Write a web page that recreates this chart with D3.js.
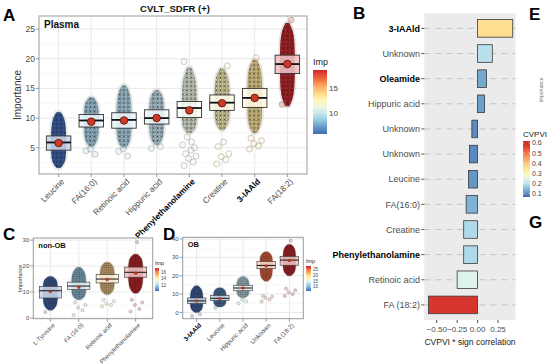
<!DOCTYPE html>
<html>
<head>
<meta charset="utf-8">
<script src="https://cdn.jsdelivr.net/npm/d3@7"></script>
<style>
  body { margin: 0; background: #fff; }
  svg { font-family: "Liberation Sans", Arial, sans-serif; }
</style>
</head>
<body>
<div id="chart"></div>
<script>
// ---- panel A : plasma ----
const catsA = ["Leucine", "FA(16:0)", "Retinoic acid", "Hippuric acid", "Phenylethanolamine", "Creatine", "3-IAAld", "FA(18:2)"];
const boldA = ["Phenylethanolamine", "3-IAAld"];
const q1A   = [4.6, 8.5, 8.3, 9.0, 10.1, 11.3, 11.8, 17.5];
const medA  = [5.9, 9.6, 9.7, 10.0, 11.7, 12.6, 13.4, 19.1];
const q3A   = [7.0, 10.6, 10.9, 11.4, 12.8, 13.9, 15.0, 20.6];
const meanA = [5.8, 9.4, 9.6, 10.0, 11.3, 12.5, 13.4, 19.1];
const loA   = [1.6, 5.2, 5.0, 5.5, 7.5, 8.0, 7.5, 12.0];
const hiA   = [11.0, 13.5, 15.5, 14.7, 18.5, 18.3, 19.8, 26.0];
const outA  = [[], [4.5, 3.9, 4.8], [4.4, 3.6, 4.8], [4.9, 5.2], [2.0, 2.6, 3.2, 3.6, 4.0, 4.6, 5.0, 5.5, 6.0, 6.8, 19.5], [2.3, 3.0, 3.5, 4.0, 5.2, 6.0, 18.8], [4.8, 5.3, 5.7, 6.2, 6.6, 20.2], [12.3, 26.5]];
const ticksA = [5, 10, 15, 20, 25];

// ---- panel C : non-OB ----
const catsC = ["L-Tyrosine", "FA (16:0)", "Retinoic acid", "Phenylethanolamine"];
const q1C   = [7.7, 10.9, 13.5, 15.7];
const medC  = [10.5, 12.3, 15.0, 17.6];
const q3C   = [12.2, 13.8, 16.7, 19.6];
const meanC = [10.2, 11.8, 14.8, 17.2];
const loC   = [3.0, 7.0, 9.0, 9.5];
const hiC   = [16.0, 19.5, 21.5, 24.5];
const outC  = [[2.3], [1.2, 3.0, 4.0, 5.0, 6.0], [4.5, 5.0, 5.5, 6.5, 7.0], [2.5, 3.5, 5.0, 6.0, 7.0, 29.2]];
const ticksC = [0, 10, 20, 30];

// ---- panel D : OB ----
const catsD = ["3-IAAld", "Leucine", "Hippuric acid", "Unknown", "FA (18:2)"];
const boldD = ["3-IAAld"];
const q1D   = [4.8, 6.4, 11.8, 23.8, 25.7];
const medD  = [6.3, 7.7, 13.3, 25.6, 28.5];
const q3D   = [7.9, 9.3, 14.8, 27.8, 30.5];
const meanD = [6.3, 7.5, 13.3, 25.3, 28.3];
const loD   = [0.0, 3.0, 8.0, 17.0, 20.0];
const hiD   = [14.5, 13.5, 19.5, 33.0, 37.0];
const outD  = [[-2.0, -1.0], [2.5], [5.0, 6.0, 7.0], [6.0, 7.0, 8.0, 8.5, 9.0], [9.0, 10.0, 11.0, 12.0, 13.0, 39.0]];
const ticksD = [0, 10, 20, 30, 40];

// ---- panel B : signed CVPVI ----
const catsB  = ["3-IAAld", "Unknown", "Oleamide", "Hippuric acid", "Unknown", "Unknown", "Leucine", "FA(16:0)", "Creatine", "Phenylethanolamine", "Retinoic acid", "FA (18:2)"];
const boldB  = ["3-IAAld", "Oleamide", "Phenylethanolamine"];
const valB   = [0.43, 0.18, 0.11, 0.085, -0.07, -0.10, -0.11, -0.14, -0.17, -0.17, -0.25, -0.60];
const cvpviB = [0.36, 0.20, 0.13, 0.12, 0.10, 0.10, 0.11, 0.14, 0.19, 0.19, 0.24, 0.58];
const ticksB = [-0.5, -0.25, 0, 0.25];
const legTicksB = [0.1, 0.2, 0.3, 0.4, 0.5, 0.6];

const svg = d3.select("#chart").append("svg").attr("width", 550).attr("height", 364);
const defs = svg.append("defs");
const interp = t => d3.interpolateRdYlBu(0.92 - 0.84 * t);
const jit = [-0.7, 0.5, -0.1, 0.9, -0.5, 0.2, 0.7, -0.9, 0.3, -0.3];

// texture of packed, outlined points for a dense jitter cloud
let pid = 0;
function pattern(color, s, r, sw) {
  const id = "pat" + (pid++);
  const p = defs.append("pattern").attr("id", id).attr("patternUnits", "userSpaceOnUse")
    .attr("width", s).attr("height", s);
  p.append("rect").attr("width", s).attr("height", s).attr("fill", d3.color(color).darker(0.35));
  [[0, 0], [s, 0], [0, s], [s, s], [s / 2, s / 2]].forEach(d => {
    p.append("circle").attr("cx", d[0]).attr("cy", d[1]).attr("r", r)
      .attr("fill", "none").attr("stroke", "rgba(10,10,20,0.55)").attr("stroke-width", sw);
  });
  return "url(#" + id + ")";
}

let gid = 0;
function gradLegend(col, yScale, x, w, ticks, title, fs, fmt) {
  const id = "grad" + (gid++);
  const [d0, d1] = yScale.domain();
  const lg = defs.append("linearGradient").attr("id", id).attr("x1", 0).attr("y1", 1).attr("x2", 0).attr("y2", 0);
  d3.range(0, 1.0001, 0.05).forEach(t => {
    lg.append("stop").attr("offset", t).attr("stop-color", col(d0 + t * (d1 - d0)));
  });
  const [yb, yt] = yScale.range();
  svg.append("text").attr("x", x).attr("y", yt - fs * 0.6).attr("font-size", fs + 1).attr("fill", "#222").text(title);
  svg.append("rect").attr("x", x).attr("y", yt).attr("width", w).attr("height", yb - yt).attr("fill", "url(#" + id + ")");
  ticks.forEach(v => {
    svg.append("line").attr("x1", x).attr("x2", x + w * 0.2).attr("y1", yScale(v)).attr("y2", yScale(v)).attr("stroke", "#fff").attr("stroke-width", 0.6);
    svg.append("line").attr("x1", x + w * 0.8).attr("x2", x + w).attr("y1", yScale(v)).attr("y2", yScale(v)).attr("stroke", "#fff").attr("stroke-width", 0.6);
    svg.append("text").attr("x", x + w + 2).attr("y", yScale(v)).attr("dy", "0.35em")
      .attr("font-size", fs).attr("fill", "#444").text(fmt(v));
  });
}

function boxPanel(o) {
  const g = svg.append("g");
  const x = d3.scalePoint().domain(o.cats).range([o.left, o.right]).padding(0.6);
  const y = d3.scaleLinear().domain(o.yDom).range([o.bottom, o.top]);
  const col = d3.scaleSequential(interp).domain(o.cDom).clamp(true);
  const step = x.step();

  g.append("rect").attr("x", o.left).attr("y", o.top).attr("width", o.right - o.left)
    .attr("height", o.bottom - o.top).attr("fill", "#fff");
  const half = (o.ticks[1] - o.ticks[0]) / 2;
  const minor = d3.range(o.ticks[0] - half, o.yDom[1], 2 * half).filter(v => v > o.yDom[0]);
  g.selectAll(null).data(minor).join("line")
    .attr("x1", o.left).attr("x2", o.right).attr("y1", d => y(d)).attr("y2", d => y(d))
    .attr("stroke", "#f2f2f2").attr("stroke-width", 0.6);
  g.selectAll(null).data(o.ticks).join("line")
    .attr("x1", o.left).attr("x2", o.right).attr("y1", d => y(d)).attr("y2", d => y(d))
    .attr("stroke", "#e6e6e6").attr("stroke-width", 0.9);
  g.selectAll(null).data(o.cats).join("line")
    .attr("x1", d => x(d)).attr("x2", d => x(d)).attr("y1", o.top).attr("y2", o.bottom)
    .attr("stroke", "#e6e6e6").attr("stroke-width", 0.9);

  o.cats.forEach((c, i) => {
    const cx = x(c), hw = step * o.jit;
    const color = col(o.mean[i]);
    const lo = o.lo[i], hi = o.hi[i], q1 = o.q1[i], q3 = o.q3[i];
    const prof = [[lo, 0.25], [lo + (q1 - lo) * 0.3, 0.9], [q1, 1], [q3, 1], [q3 + (hi - q3) * 0.7, 0.9], [hi, 0.25]];
    const area = d3.area().curve(d3.curveBasis)
      .y(d => y(d[0])).x0(d => cx - hw * d[1]).x1(d => cx + hw * d[1]);
    // faint rim of sparse points
    g.append("path").attr("d", area(prof)).attr("fill", color).attr("fill-opacity", 0.3)
      .attr("stroke", "#8a8a8a").attr("stroke-opacity", 0.22).attr("stroke-width", o.r * 1.2);
    g.append("path").attr("d", area(prof)).attr("fill", pattern(color, o.r * 1.4, o.r, o.psw));
    // sparse points outside the main cloud
    o.out[i].forEach((v, k) => {
      g.append("circle").attr("cx", cx + jit[k % jit.length] * hw).attr("cy", y(v)).attr("r", o.r)
        .attr("fill", color).attr("fill-opacity", 0.25)
        .attr("stroke", "#777").attr("stroke-opacity", 0.6).attr("stroke-width", 0.6);
    });
    // box
    const bw = step * o.bw;
    g.append("rect").attr("x", cx - bw / 2).attr("y", y(q3)).attr("width", bw).attr("height", y(q1) - y(q3))
      .attr("fill", d3.interpolateRgb(color, "#fff")(0.72)).attr("fill-opacity", 0.88)
      .attr("stroke", "#333").attr("stroke-width", o.boxSw);
    g.append("line").attr("x1", cx - bw / 2).attr("x2", cx + bw / 2)
      .attr("y1", y(o.med[i])).attr("y2", y(o.med[i])).attr("stroke", "#111").attr("stroke-width", o.medSw);
    g.append("circle").attr("cx", cx).attr("cy", y(o.mean[i])).attr("r", o.meanR)
      .attr("fill", "#cf3a25").attr("stroke", "#4a1208").attr("stroke-width", o.meanR > 2 ? 0.8 : 0.2);
  });

  g.append("rect").attr("x", o.left).attr("y", o.top).attr("width", o.right - o.left)
    .attr("height", o.bottom - o.top).attr("fill", "none").attr("stroke", "#9a9a9a").attr("stroke-width", 1);

  // axes
  o.ticks.forEach(v => {
    g.append("line").attr("x1", o.left - 3).attr("x2", o.left).attr("y1", y(v)).attr("y2", y(v)).attr("stroke", "#9a9a9a");
    g.append("text").attr("x", o.left - 4).attr("y", y(v)).attr("dy", "0.35em").attr("text-anchor", "end")
      .attr("font-size", o.fs).attr("fill", "#4d4d4d").text(v);
  });
  o.cats.forEach(c => {
    g.append("line").attr("x1", x(c)).attr("x2", x(c)).attr("y1", o.bottom).attr("y2", o.bottom + 3).attr("stroke", "#9a9a9a");
    const b = o.bold.includes(c);
    g.append("text").attr("transform", `translate(${x(c) + 2},${o.bottom + 4}) rotate(-45)`)
      .attr("dy", "0.7em").attr("text-anchor", "end").attr("font-size", o.xfs)
      .attr("font-weight", b ? "bold" : "normal").attr("fill", b ? "#000" : "#4d4d4d").text(c);
  });
  g.append("text").attr("x", o.left + 5).attr("y", o.top + o.tfs + 2).attr("font-size", o.tfs)
    .attr("font-weight", "bold").attr("fill", "#111").text(o.tag);
  if (o.ytitle) {
    g.append("text").attr("transform", `translate(${o.ytx},${(o.top + o.bottom) / 2}) rotate(-90)`)
      .attr("text-anchor", "middle").attr("font-size", o.ytfs).attr("fill", "#333").text(o.ytitle);
  }
  return col;
}

// Panel A
const colA = boxPanel({
  cats: catsA, bold: boldA, q1: q1A, med: medA, q3: q3A, mean: meanA, lo: loA, hi: hiA, out: outA,
  ticks: ticksA, yDom: [0.59, 27.19], cDom: [5.8, 18.6],
  left: 39, right: 307, top: 16, bottom: 174,
  jit: 0.23, bw: 0.75, r: 3, psw: 0.5, meanR: 3.8, boxSw: 0.9, medSw: 1.8,
  fs: 8.5, xfs: 8.3, tfs: 10, tag: "Plasma", ytitle: "Importance", ytx: 21, ytfs: 10
});
svg.append("text").attr("x", 175).attr("y", 12).attr("text-anchor", "middle")
  .attr("font-size", 9.5).attr("font-weight", "bold").attr("fill", "#111").text("CVLT_SDFR (+)");
gradLegend(colA, d3.scaleLinear().domain([5.8, 18.6]).range([134, 70]), 313, 14, [10, 15], "Imp", 8, d3.format("d"));

// Panel C
const colC = boxPanel({
  cats: catsC, bold: [], q1: q1C, med: medC, q3: q3C, mean: meanC, lo: loC, hi: hiC, out: outC,
  ticks: ticksC, yDom: [-0.27, 30.8], cDom: d3.extent(meanC),
  left: 33.3, right: 152.7, top: 238, bottom: 318.7,
  jit: 0.26, bw: 0.78, r: 1.6, psw: 0.35, meanR: 1.5, boxSw: 0.6, medSw: 1,
  fs: 6, xfs: 6, tfs: 7.5, tag: "non-OB", ytitle: "Importance", ytx: 22, ytfs: 5.5
});
gradLegend(colC, d3.scaleLinear().domain(d3.extent(meanC)).range([291, 268]), 155, 4, [12, 14, 16], "Imp", 4.5, d3.format("d"));

// Panel D
const colD = boxPanel({
  cats: catsD, bold: boldD, q1: q1D, med: medD, q3: q3D, mean: meanD, lo: loD, hi: hiD, out: outD,
  ticks: ticksD, yDom: [-3.4, 40.9], cDom: d3.extent(meanD),
  left: 182.7, right: 303.3, top: 237.3, bottom: 318.7,
  jit: 0.28, bw: 0.8, r: 1.6, psw: 0.35, meanR: 1.5, boxSw: 0.6, medSw: 1,
  fs: 6, xfs: 6.3, tfs: 7.5, tag: "OB", ytitle: null
});
gradLegend(colD, d3.scaleLinear().domain(d3.extent(meanD)).range([291, 266]), 306, 5, [10, 15, 20, 25], "Imp", 4.5, d3.format("d"));

// Panel B
const gB = svg.append("g");
const xB = d3.scaleLinear().domain([-0.652, 0.464]).range([424.3, 515.5]);
const yB = d3.scalePoint().domain(d3.range(catsB.length)).range([13.3, 320]).padding(0.6);
const colB = d3.scaleDiverging(interp).domain([0.068, 0.29, 0.6]).clamp(true);
const bh = yB.step() * 0.7;
gB.append("rect").attr("x", 424.3).attr("y", 13.3).attr("width", 515.5 - 424.3).attr("height", 320 - 13.3).attr("fill", "#ebebeb");
gB.selectAll(null).data(d3.range(catsB.length)).join("line")
  .attr("x1", 424.3).attr("x2", 515.5).attr("y1", d => yB(d)).attr("y2", d => yB(d))
  .attr("stroke", "#c4c4c4").attr("stroke-width", 1).attr("stroke-dasharray", "6,5");
gB.selectAll(null).data(d3.range(catsB.length)).join("rect")
  .attr("x", d => xB(Math.min(0, valB[d]))).attr("width", d => Math.abs(xB(valB[d]) - xB(0)))
  .attr("y", d => yB(d) - bh / 2).attr("height", bh)
  .attr("fill", d => colB(cvpviB[d])).attr("stroke", "#3a3a3a").attr("stroke-width", 0.8);
catsB.forEach((c, i) => {
  const b = boldB.includes(c);
  gB.append("line").attr("x1", 421.3).attr("x2", 424.3).attr("y1", yB(i)).attr("y2", yB(i)).attr("stroke", "#555");
  gB.append("text").attr("x", 420).attr("y", yB(i)).attr("dy", "0.35em").attr("text-anchor", "end")
    .attr("font-size", 9).attr("font-weight", b ? "bold" : "normal").attr("fill", b ? "#000" : "#4d4d4d").text(c);
});
ticksB.forEach(v => {
  gB.append("line").attr("x1", xB(v)).attr("x2", xB(v)).attr("y1", 320).attr("y2", 323).attr("stroke", "#555");
  gB.append("text").attr("x", xB(v)).attr("y", 332).attr("text-anchor", "middle").attr("font-size", 8)
    .attr("fill", "#4d4d4d").text(d3.format(".2f")(v));
});
gB.append("text").attr("x", 470).attr("y", 345).attr("text-anchor", "middle").attr("font-size", 8.5)
  .attr("fill", "#222").text("CVPVI * sign correlation");
gradLegend(colB, d3.scaleLinear().domain([0.068, 0.62]).range([197, 141]), 523, 7, legTicksB, "CVPVI", 7, d3.format(".1f"));

// panel letters
[["A", 3, 21], ["B", 353, 19], ["C", 3, 240], ["D", 163, 240], ["E", 529, 20], ["G", 529, 228]].forEach(d => {
  svg.append("text").attr("x", d[1]).attr("y", d[2]).attr("font-size", 17).attr("font-weight", "bold")
    .attr("fill", "#000").text(d[0]);
});
svg.append("text").attr("transform", "translate(543,90) rotate(-90)").attr("text-anchor", "middle")
  .attr("font-size", 5).attr("fill", "#777").text("Importance");
</script>
</body>
</html>
